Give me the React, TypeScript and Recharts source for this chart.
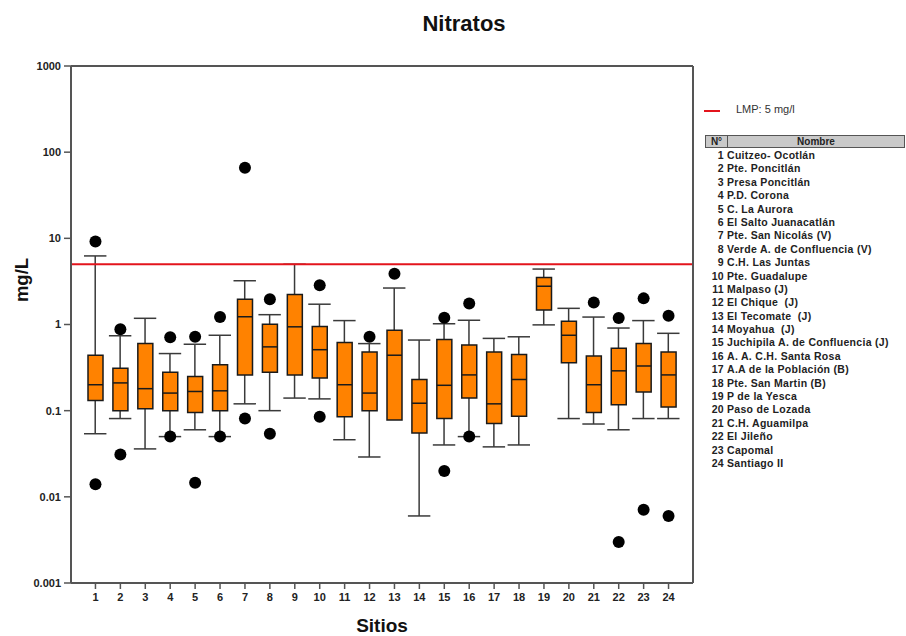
import { Bar, ComposedChart, ReferenceLine, Scatter, XAxis, YAxis } from 'recharts';

// sites on the x axis
const sites = [
  '1', '2', '3', '4', '5', '6', '7', '8', '9', '10', '11', '12',
  '13', '14', '15', '16', '17', '18', '19', '20', '21', '22', '23', '24',
];

const siteNames = [
  'Cuitzeo- Ocotlán',
  'Pte. Poncitlán',
  'Presa Poncitlán',
  'P.D. Corona',
  'C. La Aurora',
  'El Salto Juanacatlán',
  'Pte. San Nicolás (V)',
  'Verde A. de Confluencia (V)',
  'C.H. Las Juntas',
  'Pte. Guadalupe',
  'Malpaso (J)',
  'El Chique  (J)',
  'El Tecomate  (J)',
  'Moyahua  (J)',
  'Juchipila A. de Confluencia (J)',
  'A. A. C.H. Santa Rosa',
  'A.A de la Población (B)',
  'Pte. San Martin (B)',
  'P de la Yesca',
  'Paso de Lozada',
  'C.H. Aguamilpa',
  'El Jileño',
  'Capomal',
  'Santiago II',
];

// nitratos, mg/L
const whiskerLow = [0.054, 0.081, 0.036, 0.05, 0.06, 0.05, 0.12, 0.1, 0.14, 0.137, 0.046, 0.029, 0.078, 0.006, 0.04, 0.05, 0.038, 0.04, 0.99, 0.081, 0.07, 0.06, 0.081, 0.081];
const q1 = [0.131, 0.1, 0.105, 0.1, 0.095, 0.1, 0.26, 0.28, 0.26, 0.24, 0.085, 0.1, 0.078, 0.055, 0.081, 0.14, 0.071, 0.086, 1.47, 0.36, 0.095, 0.117, 0.165, 0.11];
const median = [0.2, 0.21, 0.18, 0.16, 0.167, 0.17, 1.23, 0.55, 0.94, 0.51, 0.2, 0.16, 0.44, 0.122, 0.197, 0.26, 0.12, 0.23, 2.78, 0.75, 0.2, 0.29, 0.33, 0.26];
const q3 = [0.44, 0.31, 0.6, 0.28, 0.25, 0.34, 1.96, 1.01, 2.23, 0.95, 0.62, 0.48, 0.86, 0.23, 0.67, 0.58, 0.48, 0.45, 3.5, 1.09, 0.43, 0.53, 0.6, 0.48];
const whiskerHigh = [6.25, 0.74, 1.18, 0.46, 0.59, 0.75, 3.22, 1.3, 5.0, 1.72, 1.11, 0.6, 2.65, 0.66, 1.02, 1.12, 0.69, 0.72, 4.4, 1.54, 1.22, 0.91, 1.11, 0.79];
const outlierHigh = [9.2, 0.88, null, 0.71, 0.72, 1.22, 66, 1.96, null, 2.86, null, 0.72, 3.87, null, 1.2, 1.75, null, null, null, null, 1.8, 1.19, 2.01, 1.26];
const outlierLow = [0.014, 0.031, null, 0.05, 0.0146, 0.05, 0.081, 0.054, null, 0.085, null, null, null, null, 0.02, 0.05, null, null, null, null, null, 0.003, 0.0071, 0.006];

const yTicks = [0.001, 0.01, 0.1, 1, 10, 100, 1000];
const lmp = 5;

const data = sites.map((site, i) => ({
  site,
  whisker: [whiskerLow[i], whiskerHigh[i]],
  box: [q1[i], q3[i]],
  median: median[i],
  outHi: outlierHigh[i],
  outLo: outlierLow[i],
  lowCap: whiskerLow[i] < q1[i],
}));

const font = '"Liberation Sans", Arial, sans-serif';
const axisColor = '#555';
const tickStyle = { fontSize: 11, fontWeight: 700, fill: '#222', fontFamily: font };

function WhiskerShape(props: any) {
  const { x, y, width, height, payload } = props;
  const cx = x + width / 2;
  const lowCap = payload ? payload.lowCap : true;
  return (
    <g stroke="#3a3a3a" strokeWidth={1.5}>
      <line x1={cx} x2={cx} y1={y} y2={y + height} />
      <line x1={x} x2={x + width} y1={y} y2={y} />
      {lowCap && <line x1={x} x2={x + width} y1={y + height} y2={y + height} />}
    </g>
  );
}

function MedianShape(props: any) {
  const { cx, cy } = props;
  if (typeof cy !== 'number' || !isFinite(cy)) return <g />;
  return <line x1={cx - 7.5} x2={cx + 7.5} y1={cy} y2={cy} stroke="#1a1a1a" strokeWidth={1.5} />;
}

function OutlierShape(props: any) {
  const { cx, cy } = props;
  if (typeof cy !== 'number' || !isFinite(cy)) return <g />;
  return <circle cx={cx} cy={cy} r={6} fill="#000" />;
}

function SiteTable() {
  return (
    <div style={{ position: 'absolute', left: 705, top: 100, width: 200, fontFamily: font, color: '#222' }}>
      <div style={{ position: 'relative', height: 22 }}>
        <div style={{ position: 'absolute', left: -1, top: 10, width: 16, height: 2, background: '#e3141c' }} />
        <div style={{ position: 'absolute', left: 31, top: 3, fontSize: 11, color: '#333' }}>LMP: 5 mg/l</div>
      </div>
      <div style={{ display: 'flex', marginTop: 13, height: 13, fontSize: 10, fontWeight: 700, lineHeight: '12px' }}>
        <div style={{ width: 21, border: '1px solid #555', background: '#c9c9c9', textAlign: 'center' }}>N°</div>
        <div style={{ flex: 1, border: '1px solid #555', borderLeft: 'none', background: '#c9c9c9', textAlign: 'center' }}>Nombre</div>
      </div>
      <div style={{ marginTop: 1 }}>
        {siteNames.map((name, i) => (
          <div key={name} style={{ display: 'flex', height: 13.4, lineHeight: '13.4px', fontSize: 10.5, fontWeight: 700, whiteSpace: 'pre', letterSpacing: 0.3 }}>
            <span style={{ width: 19, textAlign: 'right' }}>{sites[i]}</span>
            <span style={{ marginLeft: 3 }}>{name}</span>
          </div>
        ))}
      </div>
    </div>
  );
}

export default function App() {
  return (
    <div style={{ position: 'fixed', left: 0, top: 0, width: 906, height: 636, background: '#fff' }}>
      <div
        style={{
          position: 'absolute',
          left: 464,
          top: 11,
          transform: 'translateX(-50%)',
          fontFamily: font,
          fontWeight: 700,
          fontSize: 22,
          color: '#111',
          whiteSpace: 'nowrap',
        }}
      >
        Nitratos
      </div>
      <div
        style={{
          position: 'absolute',
          left: 22,
          top: 280,
          transform: 'translate(-50%, -50%) rotate(-90deg)',
          fontFamily: font,
          fontWeight: 700,
          fontSize: 18.5,
          color: '#111',
          whiteSpace: 'nowrap',
        }}
      >
        mg/L
      </div>
      <div style={{ position: 'absolute', left: 0, top: 0 }}>
        <ComposedChart width={700} height={636} data={data} margin={{ top: 65, right: 6, bottom: 2, left: 11 }}>
          <XAxis
            xAxisId="a"
            dataKey="site"
            type="category"
            padding={{ left: 12, right: 12 }}
            height={51}
            tick={tickStyle}
            tickSize={6}
            tickMargin={4}
            interval={0}
            axisLine={{ stroke: axisColor, strokeWidth: 2 }}
            tickLine={{ stroke: axisColor, strokeWidth: 1.5 }}
            label={{ value: 'Sitios', position: 'insideBottom', offset: 2, style: { fontSize: 19, fontWeight: 700, fill: '#111', fontFamily: font } }}
          />
          <XAxis
            xAxisId="b"
            dataKey="site"
            type="category"
            orientation="top"
            padding={{ left: 12, right: 12 }}
            height={1}
            tick={false}
            tickLine={false}
            axisLine={{ stroke: axisColor, strokeWidth: 2 }}
          />
          <YAxis
            scale="log"
            domain={[0.001, 1000]}
            ticks={yTicks}
            allowDataOverflow
            width={60}
            tick={tickStyle}
            tickSize={7}
            tickMargin={3}
            interval={0}
            axisLine={{ stroke: axisColor, strokeWidth: 2 }}
            tickLine={{ stroke: axisColor, strokeWidth: 1.5 }}
          />
          <YAxis
            yAxisId="r"
            orientation="right"
            scale="log"
            domain={[0.001, 1000]}
            allowDataOverflow
            width={1}
            tick={false}
            tickLine={false}
            axisLine={{ stroke: axisColor, strokeWidth: 2 }}
          />
          <ReferenceLine xAxisId="a" y={1000} stroke={axisColor} strokeWidth={2} />
          <ReferenceLine xAxisId="a" y={lmp} stroke="#e3141c" strokeWidth={2} />
          <Bar xAxisId="a" dataKey="whisker" barSize={29} shape={<WhiskerShape />} isAnimationActive={false} />
          <Bar xAxisId="b" dataKey="box" barSize={15} fill="#ff8200" stroke="#1a1a1a" strokeWidth={1.5} isAnimationActive={false} />
          <Scatter xAxisId="a" dataKey="median" shape={<MedianShape />} isAnimationActive={false} />
          <Scatter xAxisId="a" dataKey="outHi" shape={<OutlierShape />} isAnimationActive={false} />
          <Scatter xAxisId="a" dataKey="outLo" shape={<OutlierShape />} isAnimationActive={false} />
        </ComposedChart>
      </div>
      <SiteTable />
    </div>
  );
}
